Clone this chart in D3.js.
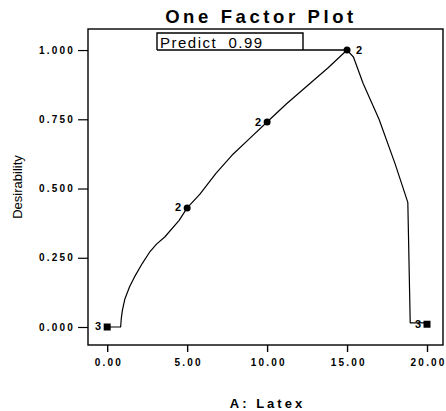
<!DOCTYPE html>
<html>
<head>
<meta charset="utf-8">
<script src="https://cdn.jsdelivr.net/npm/d3@7/dist/d3.min.js"></script>
<style>
  html, body { margin: 0; padding: 0; background: #fff; }
  svg { display: block; }
  text { font-family: "Liberation Sans", Arial, sans-serif; fill: #000; }
</style>
</head>
<body>
<svg id="chart" width="446" height="411"></svg>
<script>
// Desirability response curve over factor A (Latex)
const curveX = [0, 0.84, 0.88, 0.95, 1.1, 1.4, 1.7, 2.2, 2.65, 3.1, 3.6, 4.5, 5, 5.8, 6.8, 7.8, 8.9, 10, 11.2, 12.5, 13.8, 15, 15.4, 16, 17, 18, 18.8, 18.95, 20];
const curveY = [0, 0, 0.03, 0.06, 0.10, 0.145, 0.18, 0.23, 0.27, 0.30, 0.325, 0.385, 0.43, 0.48, 0.555, 0.62, 0.68, 0.74, 0.805, 0.87, 0.935, 1.0, 0.975, 0.88, 0.75, 0.59, 0.45, 0.015, 0.015];

// Design points and their replicate counts
const designX = [0, 5, 10, 15, 20];
const designY = [0, 0.43, 0.74, 1.0, 0.01];
const designN = [3, 2, 2, 2, 3];

const xTicks = [0, 5, 10, 15, 20];
const yTicks = [0, 0.25, 0.5, 0.75, 1.0];

const predictX = 15;
const predictValue = 0.99;

const svg = d3.select("#chart");
const plotL = 88, plotR = 443, plotT = 29, plotB = 345;

const x = d3.scaleLinear().domain([-1.2, 21.0]).range([plotL, plotR]);
const y = d3.scaleLinear().domain([-0.065, 1.076]).range([plotB, plotT]);

// Title
svg.append("text")
  .attr("x", 261).attr("y", 23)
  .attr("text-anchor", "middle")
  .attr("font-size", 18.5).attr("font-weight", "bold")
  .attr("letter-spacing", 3.6)
  .text("One Factor Plot");

// Frame
svg.append("rect")
  .attr("x", plotL).attr("y", plotT)
  .attr("width", plotR - plotL).attr("height", plotB - plotT)
  .attr("fill", "none").attr("stroke", "#000").attr("stroke-width", 1.4);

// Y axis
const tickSpacing = 2.2;
const yAxis = svg.append("g")
  .attr("transform", `translate(${plotL},0)`)
  .call(d3.axisLeft(y).tickValues(yTicks).tickFormat(d3.format(".3f")).tickSize(10).tickPadding(3));
yAxis.select(".domain").remove();
yAxis.selectAll("line").attr("stroke-width", 1.2);
yAxis.selectAll("text")
  .attr("font-size", 10).attr("font-weight", "bold").attr("letter-spacing", tickSpacing)
  .attr("font-family", "Liberation Sans, Arial, sans-serif");

// X axis
const xAxis = svg.append("g")
  .attr("transform", `translate(0,${plotB})`)
  .call(d3.axisBottom(x).tickValues(xTicks).tickFormat(d3.format(".2f")).tickSize(7).tickPadding(7));
xAxis.select(".domain").remove();
xAxis.selectAll("line").attr("stroke-width", 1.4);
xAxis.selectAll("text")
  .attr("font-size", 10).attr("font-weight", "bold").attr("letter-spacing", tickSpacing)
  .attr("dx", tickSpacing / 2)
  .attr("font-family", "Liberation Sans, Arial, sans-serif");

// Axis titles
svg.append("text")
  .attr("x", 267.5).attr("y", 408)
  .attr("text-anchor", "middle")
  .attr("font-size", 13).attr("font-weight", "bold").attr("letter-spacing", 3)
  .text("A: Latex");

svg.append("text")
  .attr("transform", "translate(22,187) rotate(-90)")
  .attr("text-anchor", "middle")
  .attr("font-size", 13)
  .text("Desirability");

// Response curve
const curve = curveX.map((d, i) => [d, curveY[i]]);
svg.append("path")
  .datum(curve)
  .attr("fill", "none").attr("stroke", "#000").attr("stroke-width", 1.2)
  .attr("stroke-linejoin", "round")
  .attr("d", d3.line().x(d => x(d[0])).y(d => y(d[1])));

// Prediction box
const boxL = 157, boxT = 33, boxR = 303;
svg.append("path")
  .attr("fill", "none").attr("stroke", "#000").attr("stroke-width", 1.4)
  .attr("d", `M${boxL},${y(1.0)} L${boxL},${boxT} L${boxR},${boxT} L${boxR},${y(1.0)} M${boxL},${y(1.0)} L${x(predictX)},${y(1.0)}`);
svg.append("text")
  .attr("x", boxL + 3).attr("y", 48)
  .attr("font-size", 15).attr("letter-spacing", 1.5)
  .style("white-space", "pre")
  .text("Predict  " + predictValue.toFixed(2));

// Design points
const pts = designX.map((d, i) => ({ x: d, y: designY[i], n: designN[i] }));
pts.forEach(p => {
  if (p.n === 3) {
    svg.append("rect")
      .attr("x", x(p.x) - 3.5).attr("y", y(p.y) - 3.5)
      .attr("width", 7).attr("height", 7).attr("fill", "#000");
  } else {
    svg.append("circle")
      .attr("cx", x(p.x)).attr("cy", y(p.y)).attr("r", 3.5).attr("fill", "#000");
  }
  const onRight = p.x === 15;
  svg.append("text")
    .attr("x", onRight ? x(p.x) + 9 : x(p.x) - 6)
    .attr("y", y(p.y) + 3.5)
    .attr("text-anchor", onRight ? "start" : "end")
    .attr("font-size", 11).attr("font-weight", "bold")
    .text(p.n);
});
</script>
</body>
</html>
